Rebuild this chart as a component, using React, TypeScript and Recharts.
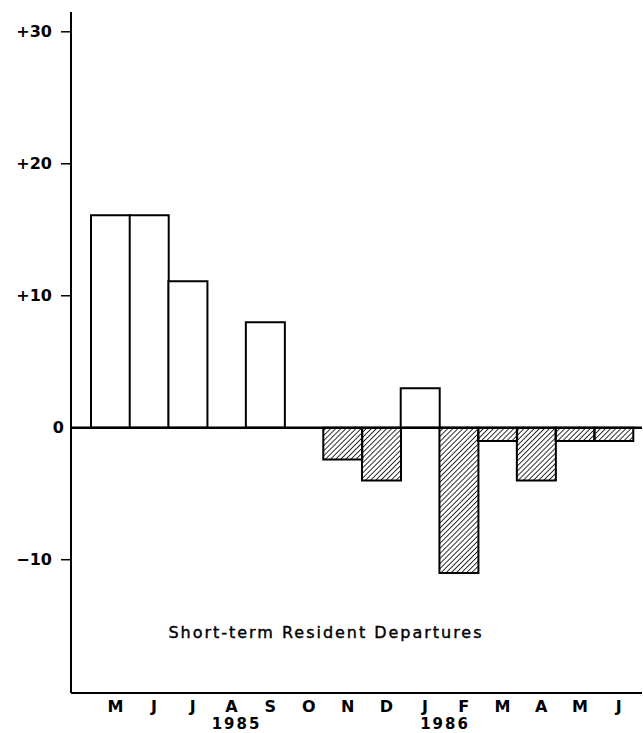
import React from "react";
import { Bar, BarChart, Cell, ReferenceLine, XAxis, YAxis } from "recharts";

// monthly change, May 1985 - June 1986
const months = ["M", "J", "J", "A", "S", "O", "N", "D", "J", "F", "M", "A", "M", "J"];
const departures = [16.1, 16.1, 11.1, 0, 8.0, 0, -2.4, -4.0, 3.0, -11.0, -1.0, -4.0, -1.0, -1.0];
const yTicks = [30, 20, 10, 0, -10];
const yTickText: Record<number, string> = { 30: "+30", 20: "+20", 10: "+10", 0: "0", [-10]: "\u221210" };
const years = [
  { index: 3, label: "1985", dx: 10 },
  { index: 8, label: "1986", dx: 25 },
];
const title = "Short-term Resident Departures";

const data = months.map((m, i) => ({ key: `${m}${i}`, month: m, value: departures[i] }));

const FONT = "'DejaVu Sans', sans-serif";

function MonthTick(props: any) {
  const { x, y, index } = props;
  const year = years.find((yr) => yr.index === index);
  return (
    <g>
      <text x={x + 5} y={y + 13} textAnchor="middle" dominantBaseline="central"
        fontFamily={FONT} fontWeight="bold" fontSize={16} fill="#000">
        {months[index]}
      </text>
      {year && (
        <text x={x + year.dx} y={y + 31} textAnchor="middle" dominantBaseline="central"
          fontFamily={FONT} fontWeight="bold" fontSize={15} letterSpacing={2} fill="#000">
          {year.label}
        </text>
      )}
    </g>
  );
}

function ValueTick(props: any) {
  const { x, y, payload } = props;
  const v = payload.value as number;
  const isZero = v === 0;
  return (
    <g>
      {!isZero && <line x1={x - 10} x2={x} y1={y} y2={y} stroke="#000" strokeWidth={1.5} />}
      <text x={isZero ? x - 7 : x - 19} y={y} textAnchor="end" dominantBaseline="central"
        fontFamily={FONT} fontWeight="bold" fontSize={16} fill="#000">
        {yTickText[v]}
      </text>
    </g>
  );
}

export default function App() {
  return (
    <div style={{ position: "absolute", left: 0, top: 0, background: "#fff" }}>
      <BarChart width={643} height={733} data={data} barCategoryGap={0}
        margin={{ top: 12, right: 1, bottom: 0, left: 0 }}>
        <defs>
          <pattern id="hatch" width={3.6} height={10} patternUnits="userSpaceOnUse"
            patternTransform="rotate(45)">
            <line x1={0} y1={0} x2={0} y2={10} stroke="#000" strokeWidth={1.6} />
          </pattern>
        </defs>
        <XAxis dataKey="key" height={40} tick={<MonthTick />} tickLine={false} tickSize={0}
          tickMargin={0} axisLine={{ stroke: "#000", strokeWidth: 2 }} interval={0}
          padding={{ left: 20, right: 9 }} />
        <YAxis type="number" domain={[-20.1, 31.5]} ticks={yTicks} width={71}
          tick={<ValueTick />} tickLine={false} tickSize={0} tickMargin={0}
          axisLine={{ stroke: "#000", strokeWidth: 2 }} allowDataOverflow />
        <Bar dataKey="value" stroke="#000" strokeWidth={2} isAnimationActive={false}>
          {data.map((d) => (
            <Cell key={d.key} fill={d.value < 0 ? "url(#hatch)" : "#fff"} />
          ))}
        </Bar>
        <ReferenceLine y={0} stroke="#000" strokeWidth={2.5} />
        <text x={325} y={632} textAnchor="middle" dominantBaseline="central"
          fontFamily={FONT} fontSize={16} textLength={313} lengthAdjust="spacing"
          fill="#000" stroke="#000" strokeWidth={0.4}>
          {title}
        </text>
      </BarChart>
    </div>
  );
}
